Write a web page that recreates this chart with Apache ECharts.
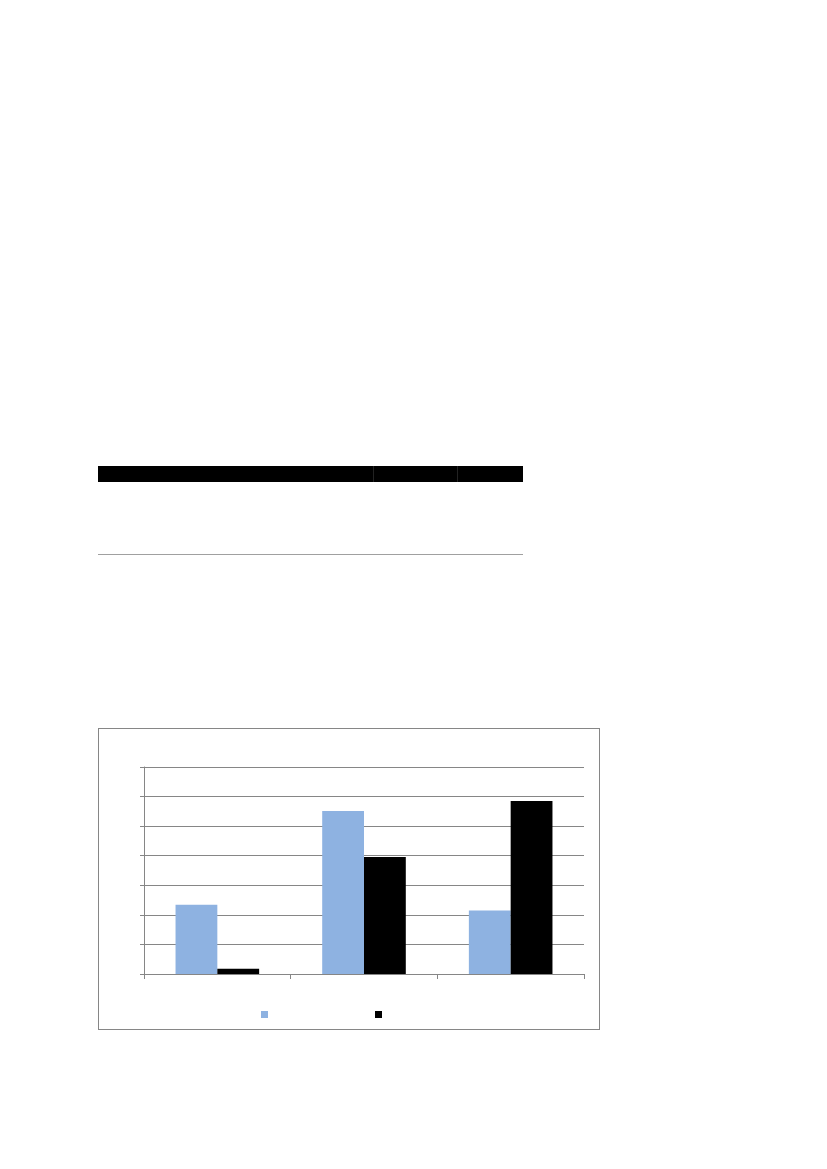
<!DOCTYPE html>
<html>
<head>
<meta charset="utf-8">
<script src="https://cdn.jsdelivr.net/npm/echarts@6/dist/echarts.min.js"></script>
<style>
  html, body { margin: 0; padding: 0; background: #fff; }
  body { width: 827px; height: 1169px; position: relative; overflow: hidden; }
  /* 表格：黑色表头 + 底线 */
  .tbl { position: absolute; left: 98px; top: 466px; width: 425px; }
  .tbl .head { display: flex; height: 16px; }
  .tbl .head div { background: #000; height: 16px; }
  .tbl .line { position: absolute; left: 0; top: 88px; width: 425px; height: 1px; background: #a0a0a0; }
  #chart {
    position: absolute; left: 98px; top: 728px; width: 502px; height: 302px;
    border: 1px solid #868686; box-sizing: border-box;
  }
</style>
</head>
<body>
<div class="tbl">
  <div class="head">
    <div style="width:275px;border-right:1px solid #222"></div>
    <div style="width:83px;border-right:1px solid #222"></div>
    <div style="width:65px"></div>
  </div>
  <div class="line"></div>
</div>
<div id="chart"></div>
<script>
// 数据
const categories = ['', ' ', '  '];
const seriesNames = ['A', 'B'];
const seriesA = [2.34, 5.51, 2.15];
const seriesB = [0.18, 3.96, 5.85];

const axisColor = '#868686';

const chart = echarts.init(document.getElementById('chart'));
chart.setOption({
  animation: false,
  grid: { left: 45, right: 15, top: 38, bottom: 55 },
  legend: {
    data: seriesNames,
    left: 157,
    top: 277,
    itemWidth: 7,
    itemHeight: 7,
    itemGap: 107,
    icon: 'rect',
    formatter: () => '',
    textStyle: { color: 'transparent' }
  },
  xAxis: {
    type: 'category',
    data: categories,
    axisLine: { lineStyle: { color: axisColor, width: 1 } },
    axisTick: { show: true, length: 5, lineStyle: { color: axisColor } },
    axisLabel: { show: false }
  },
  yAxis: {
    type: 'value',
    min: 0,
    max: 7,
    interval: 1,
    axisLine: { show: true, lineStyle: { color: axisColor, width: 1 } },
    axisTick: { show: true, length: 4, lineStyle: { color: axisColor } },
    axisLabel: { show: false },
    splitLine: { lineStyle: { color: axisColor, width: 1 } }
  },
  series: [
    {
      name: seriesNames[0],
      type: 'bar',
      data: seriesA,
      barGap: '0%',
      barCategoryGap: '43%',
      itemStyle: { color: '#8EB2E1' }
    },
    {
      name: seriesNames[1],
      type: 'bar',
      data: seriesB,
      barGap: '0%',
      barCategoryGap: '43%',
      itemStyle: { color: '#000000' }
    }
  ]
});
</script>
</body>
</html>
